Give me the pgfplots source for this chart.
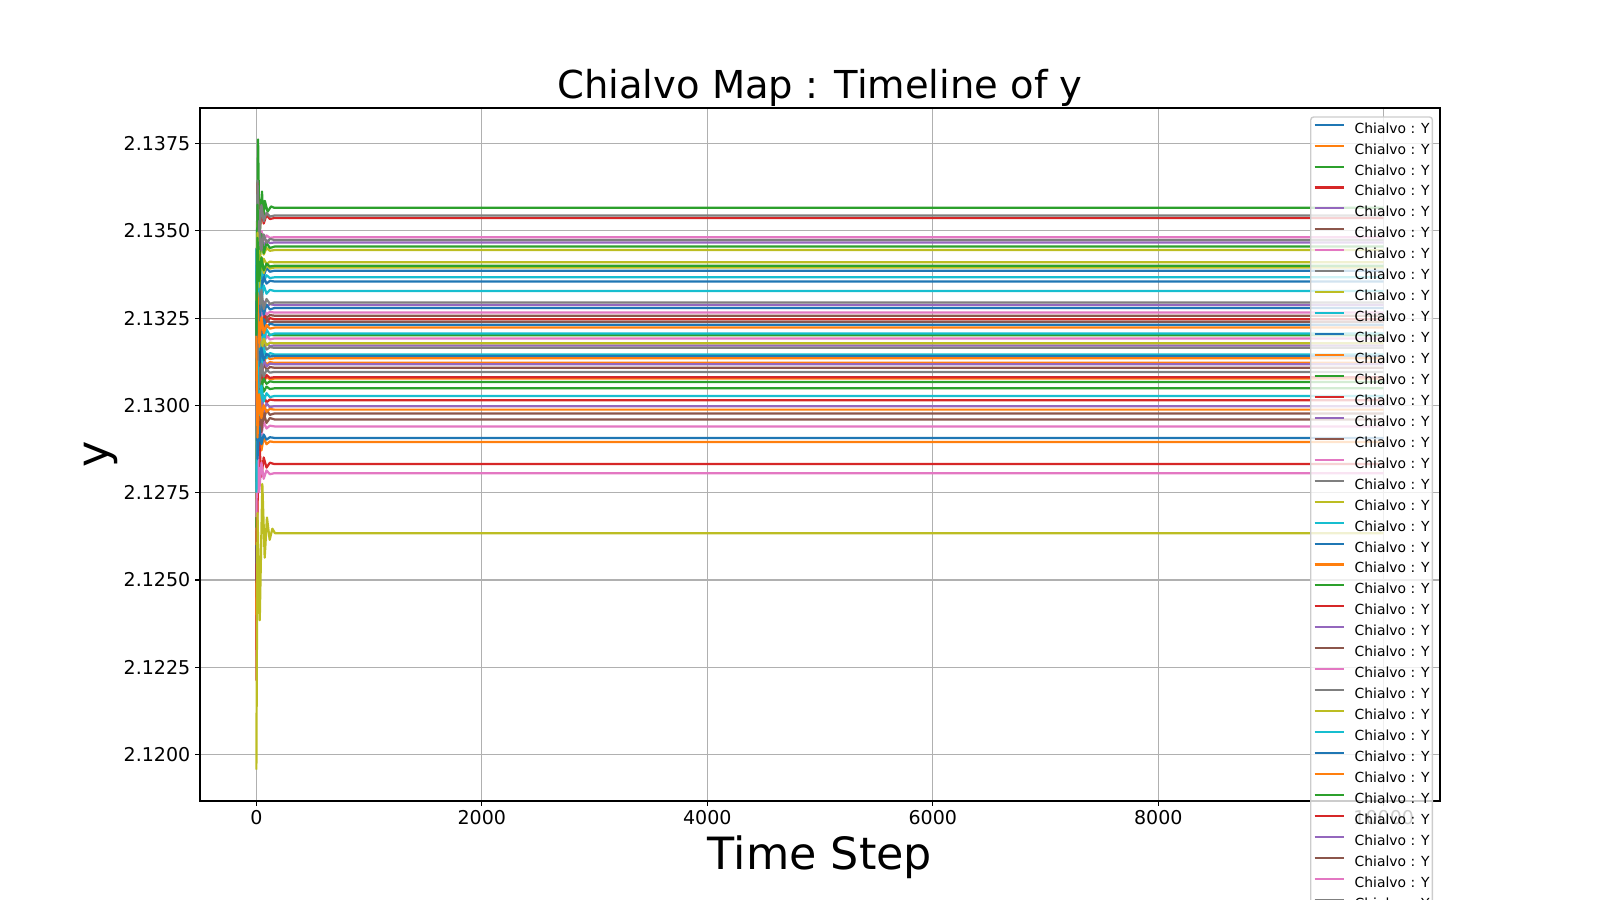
\documentclass[border=0pt]{standalone}
\usepackage{pgfplots}
\pgfplotsset{compat=1.18}
\usepackage{fontspec}
\setmainfont{DejaVu Sans}
\definecolor{c0}{RGB}{31,119,180}
\definecolor{c1}{RGB}{255,127,14}
\definecolor{c2}{RGB}{44,160,44}
\definecolor{c3}{RGB}{214,39,40}
\definecolor{c4}{RGB}{148,103,189}
\definecolor{c5}{RGB}{140,86,75}
\definecolor{c6}{RGB}{227,119,194}
\definecolor{c7}{RGB}{127,127,127}
\definecolor{c8}{RGB}{188,189,34}
\definecolor{c9}{RGB}{23,190,207}
\begin{document}
\begin{tikzpicture}
\useasboundingbox (-144pt,-71.28pt) rectangle (1008pt,576.72pt);
\clip (-144pt,-71.28pt) rectangle (1008pt,576.72pt);
\begin{axis}[
  at={(0,0)}, anchor=south west,
  scale only axis, width=892.8pt, height=498.96pt,
  xmin=-499.95, xmax=10498.95, ymin=2.11867, ymax=2.13852,
  xtick={0,2000,4000,6000,8000,10000},
  ytick={2.12,2.1225,2.125,2.1275,2.13,2.1325,2.135,2.1375},
  scaled x ticks=false, scaled y ticks=false,
  /pgf/number format/assume math mode=true,
  xticklabel style={/pgf/number format/1000 sep={}},
  yticklabel style={/pgf/number format/.cd, fixed, fixed zerofill, precision=4},
  tick label style={font=\fontsize{13.7}{16}\selectfont},
  tick align=outside, tick pos=left, major tick length=3.5pt,
  every tick/.style={black, line width=0.8pt},
  axis line style={line width=0.8pt},
  grid=major, major grid style={color=black!31, line width=0.8pt},
  title={Chialvo Map : Timeline of y},
  title style={at={(0.5,1)}, anchor=base, yshift=0.8pt, inner sep=0pt, font=\fontsize{27.7}{33}\selectfont},
  xlabel={Time Step},
  xlabel style={at={(axis description cs:0.5,0)}, anchor=base, yshift=-49.5pt, inner sep=0pt, font=\fontsize{32}{38}\selectfont},
  ylabel={y},
  ylabel style={at={(axis description cs:-0.07415,0.5)}, anchor=base, inner sep=0pt, font=\fontsize{32}{38}\selectfont},
  every axis plot post/.append style={line width=1.6pt, mark=none, line join=round},
  legend cell align=left,
  legend image code/.code={\draw[#1, line width=1.5pt] (0pt,3.5pt) -- (21.5pt,3.5pt);},
  legend style={at={(1,1)}, anchor=north east, xshift=-5pt, yshift=-6pt,
    draw=black!20, line width=1pt, rounded corners=2pt, fill=white, fill opacity=0.8, draw opacity=1, text opacity=1,
    inner xsep=2pt, inner ysep=4pt, row sep=5.08pt, column sep=6.6pt,
    font=\fontsize{10}{12}\selectfont,
    nodes={inner sep=0pt, text height=7.6pt, text depth=2.4pt}},
]
\addplot[c0] coordinates {(0,2.12950)(10,2.13486)(25,2.13331)(45,2.13416)(65,2.13370)(90,2.13394)(120,2.13383)(160,2.13386)(9999,2.13386)};
\addlegendentry{Chialvo : Y}
\addplot[c1] coordinates {(0,2.12300)(10,2.13215)(25,2.13091)(45,2.13159)(65,2.13122)(90,2.13141)(120,2.13133)(160,2.13135)(9999,2.13135)};
\addlegendentry{Chialvo : Y}
\addplot[c2] coordinates {(0,2.13300)(15,2.13762)(28,2.13470)(50,2.13613)(62,2.13530)(75,2.13586)(100,2.13555)(130,2.13570)(160,2.13566)(9999,2.13566)};
\addlegendentry{Chialvo : Y}
\addplot[c3] coordinates {(0,2.12212)(10,2.13637)(25,2.13482)(45,2.13567)(65,2.13521)(90,2.13545)(120,2.13534)(160,2.13537)(9999,2.13537)};
\addlegendentry{Chialvo : Y}
\addplot[c4] coordinates {(0,2.13100)(10,2.13547)(25,2.13423)(45,2.13491)(65,2.13454)(90,2.13473)(120,2.13465)(160,2.13467)(9999,2.13467)};
\addlegendentry{Chialvo : Y}
\addplot[c5] coordinates {(0,2.13450)(10,2.13177)(25,2.13301)(45,2.13233)(65,2.13270)(90,2.13251)(120,2.13259)(160,2.13257)(9999,2.13257)};
\addlegendentry{Chialvo : Y}
\addplot[c6] coordinates {(0,2.12900)(10,2.13542)(25,2.13449)(45,2.13500)(65,2.13472)(90,2.13487)(120,2.13480)(160,2.13482)(9999,2.13482)};
\addlegendentry{Chialvo : Y}
\addplot[c7] coordinates {(0,2.13300)(10,2.13644)(25,2.13489)(45,2.13574)(65,2.13528)(90,2.13552)(120,2.13541)(160,2.13544)(9999,2.13544)};
\addlegendentry{Chialvo : Y}
\addplot[c8] coordinates {(0,2.13000)(10,2.13525)(25,2.13401)(45,2.13469)(65,2.13432)(90,2.13451)(120,2.13443)(160,2.13445)(9999,2.13445)};
\addlegendentry{Chialvo : Y}
\addplot[c9] coordinates {(0,2.12700)(10,2.13447)(25,2.13323)(45,2.13391)(65,2.13354)(90,2.13373)(120,2.13365)(160,2.13367)(9999,2.13367)};
\addlegendentry{Chialvo : Y}
\addplot[c0] coordinates {(0,2.13100)(10,2.13275)(25,2.13399)(45,2.13331)(65,2.13368)(90,2.13349)(120,2.13357)(160,2.13355)(9999,2.13355)};
\addlegendentry{Chialvo : Y}
\addplot[c1] coordinates {(0,2.12800)(10,2.13062)(25,2.13155)(45,2.13104)(65,2.13132)(90,2.13117)(120,2.13124)(160,2.13122)(9999,2.13122)};
\addlegendentry{Chialvo : Y}
\addplot[c2] coordinates {(0,2.13000)(10,2.13575)(25,2.13389)(45,2.13491)(65,2.13436)(90,2.13465)(120,2.13451)(160,2.13455)(9999,2.13455)};
\addlegendentry{Chialvo : Y}
\addplot[c3] coordinates {(0,2.13000)(10,2.13147)(25,2.13302)(45,2.13217)(65,2.13263)(90,2.13239)(120,2.13250)(160,2.13247)(9999,2.13247)};
\addlegendentry{Chialvo : Y}
\addplot[c4] coordinates {(0,2.12850)(10,2.13228)(25,2.13321)(45,2.13270)(65,2.13298)(90,2.13283)(120,2.13290)(160,2.13288)(9999,2.13288)};
\addlegendentry{Chialvo : Y}
\addplot[c5] coordinates {(0,2.12450)(10,2.13340)(25,2.13185)(45,2.13270)(65,2.13224)(90,2.13248)(120,2.13237)(160,2.13240)(9999,2.13240)};
\addlegendentry{Chialvo : Y}
\addplot[c6] coordinates {(0,2.13150)(10,2.13206)(25,2.13299)(45,2.13248)(65,2.13276)(90,2.13261)(120,2.13268)(160,2.13266)(9999,2.13266)};
\addlegendentry{Chialvo : Y}
\addplot[c7] coordinates {(0,2.13150)(10,2.13374)(25,2.13529)(45,2.13444)(65,2.13490)(90,2.13466)(120,2.13477)(160,2.13474)(9999,2.13474)};
\addlegendentry{Chialvo : Y}
\addplot[c8] coordinates {(0,2.13250)(10,2.13350)(25,2.13443)(45,2.13392)(65,2.13420)(90,2.13405)(120,2.13412)(160,2.13410)(9999,2.13410)};
\addlegendentry{Chialvo : Y}
\addplot[c9] coordinates {(0,2.13450)(10,2.13228)(25,2.13383)(45,2.13298)(65,2.13344)(90,2.13320)(120,2.13331)(160,2.13328)(9999,2.13328)};
\addlegendentry{Chialvo : Y}
\addplot[c0] coordinates {(0,2.12700)(10,2.13399)(25,2.13213)(45,2.13315)(65,2.13260)(90,2.13289)(120,2.13275)(160,2.13279)(9999,2.13279)};
\addlegendentry{Chialvo : Y}
\addplot[c1] coordinates {(0,2.13250)(10,2.13137)(25,2.13044)(45,2.13095)(65,2.13067)(90,2.13082)(120,2.13075)(160,2.13077)(9999,2.13077)};
\addlegendentry{Chialvo : Y}
\addplot[c2] coordinates {(0,2.12900)(10,2.13121)(25,2.13245)(45,2.13177)(65,2.13214)(90,2.13195)(120,2.13203)(160,2.13201)(9999,2.13201)};
\addlegendentry{Chialvo : Y}
\addplot[c3] coordinates {(0,2.12750)(10,2.13161)(25,2.13037)(45,2.13105)(65,2.13068)(90,2.13087)(120,2.13079)(160,2.13081)(9999,2.13081)};
\addlegendentry{Chialvo : Y}
\addplot[c4] coordinates {(0,2.13300)(10,2.13232)(25,2.13139)(45,2.13190)(65,2.13162)(90,2.13177)(120,2.13170)(160,2.13172)(9999,2.13172)};
\addlegendentry{Chialvo : Y}
\addplot[c5] coordinates {(0,2.12700)(10,2.13028)(25,2.13152)(45,2.13084)(65,2.13121)(90,2.13102)(120,2.13110)(160,2.13108)(9999,2.13108)};
\addlegendentry{Chialvo : Y}
\addplot[c6] coordinates {(0,2.12680)(10,2.13292)(25,2.13137)(45,2.13222)(65,2.13176)(90,2.13200)(120,2.13189)(160,2.13192)(9999,2.13192)};
\addlegendentry{Chialvo : Y}
\addplot[c7] coordinates {(0,2.12800)(10,2.13415)(25,2.13229)(45,2.13331)(65,2.13276)(90,2.13305)(120,2.13291)(160,2.13295)(9999,2.13295)};
\addlegendentry{Chialvo : Y}
\addplot[c8] coordinates {(0,2.12850)(10,2.13495)(25,2.13340)(45,2.13425)(65,2.13379)(90,2.13403)(120,2.13392)(160,2.13395)(9999,2.13395)};
\addlegendentry{Chialvo : Y}
\addplot[c9] coordinates {(0,2.12700)(10,2.13356)(25,2.13123)(45,2.13251)(65,2.13182)(90,2.13218)(120,2.13201)(160,2.13206)(9999,2.13206)};
\addlegendentry{Chialvo : Y}
\addplot[c0] coordinates {(0,2.13400)(10,2.13131)(25,2.13286)(45,2.13201)(65,2.13247)(90,2.13223)(120,2.13234)(160,2.13231)(9999,2.13231)};
\addlegendentry{Chialvo : Y}
\addplot[c1] coordinates {(0,2.12400)(10,2.12815)(25,2.12939)(45,2.12871)(65,2.12908)(90,2.12889)(120,2.12897)(160,2.12895)(9999,2.12895)};
\addlegendentry{Chialvo : Y}
\addplot[c2] coordinates {(0,2.13300)(10,2.13109)(25,2.13016)(45,2.13067)(65,2.13039)(90,2.13054)(120,2.13047)(160,2.13049)(9999,2.13049)};
\addlegendentry{Chialvo : Y}
\addplot[c3] coordinates {(0,2.13350)(10,2.12935)(25,2.13059)(45,2.12991)(65,2.13028)(90,2.13009)(120,2.13017)(160,2.13015)(9999,2.13015)};
\addlegendentry{Chialvo : Y}
\addplot[c4] coordinates {(0,2.12600)(10,2.13038)(25,2.13162)(45,2.13094)(65,2.13131)(90,2.13112)(120,2.13120)(160,2.13118)(9999,2.13118)};
\addlegendentry{Chialvo : Y}
\addplot[c5] coordinates {(0,2.12550)(10,2.13097)(25,2.12911)(45,2.13013)(65,2.12958)(90,2.12987)(120,2.12973)(160,2.12977)(9999,2.12977)};
\addlegendentry{Chialvo : Y}
\addplot[c6] coordinates {(0,2.13050)(10,2.12860)(25,2.12984)(45,2.12916)(65,2.12953)(90,2.12934)(120,2.12942)(160,2.12940)(9999,2.12940)};
\addlegendentry{Chialvo : Y}
\addplot[c7] coordinates {(0,2.13400)(10,2.13105)(25,2.13198)(45,2.13147)(65,2.13175)(90,2.13160)(120,2.13167)(160,2.13165)(9999,2.13165)};
\addlegendentry{Chialvo : Y}
\addplot[c8] coordinates {(0,2.13350)(10,2.13098)(25,2.13222)(45,2.13154)(65,2.13191)(90,2.13172)(120,2.13180)(160,2.13178)(9999,2.13178)};
\addlegendentry{Chialvo : Y}
\addplot[c9] coordinates {(0,2.13400)(10,2.13026)(25,2.13212)(45,2.13110)(65,2.13165)(90,2.13136)(120,2.13150)(160,2.13146)(9999,2.13146)};
\addlegendentry{Chialvo : Y}
\addplot[c0] coordinates {(0,2.12500)(10,2.13222)(25,2.13098)(45,2.13166)(65,2.13129)(90,2.13148)(120,2.13140)(160,2.13142)(9999,2.13142)};
\addlegendentry{Chialvo : Y}
\addplot[c1] coordinates {(0,2.12600)(10,2.13323)(25,2.13168)(45,2.13253)(65,2.13207)(90,2.13231)(120,2.13220)(160,2.13223)(9999,2.13223)};
\addlegendentry{Chialvo : Y}
\addplot[c2] coordinates {(0,2.12650)(10,2.13007)(25,2.13100)(45,2.13049)(65,2.13077)(90,2.13062)(120,2.13069)(160,2.13067)(9999,2.13067)};
\addlegendentry{Chialvo : Y}
\addplot[c3] coordinates {(0,2.12500)(10,2.12712)(25,2.12898)(45,2.12796)(65,2.12851)(90,2.12822)(120,2.12836)(160,2.12832)(9999,2.12832)};
\addlegendentry{Chialvo : Y}
\addplot[c4] coordinates {(0,2.12950)(10,2.13098)(25,2.12943)(45,2.13028)(65,2.12982)(90,2.13006)(120,2.12995)(160,2.12998)(9999,2.12998)};
\addlegendentry{Chialvo : Y}
\addplot[c5] coordinates {(0,2.13100)(10,2.12840)(25,2.13026)(45,2.12924)(65,2.12979)(90,2.12950)(120,2.12964)(160,2.12960)(9999,2.12960)};
\addlegendentry{Chialvo : Y}
\addplot[c6] coordinates {(0,2.12680)(10,2.12906)(25,2.12751)(45,2.12836)(65,2.12790)(90,2.12814)(120,2.12803)(160,2.12806)(9999,2.12806)};
\addlegendentry{Chialvo : Y}
\addplot[c7] coordinates {(0,2.12900)(10,2.13176)(25,2.13052)(45,2.13120)(65,2.13083)(90,2.13102)(120,2.13094)(160,2.13096)(9999,2.13096)};
\addlegendentry{Chialvo : Y}
\addplot[c8] coordinates {(0,2.11957)(10,2.12692)(30,2.12385)(53,2.12775)(74,2.12564)(94,2.12679)(118,2.12615)(142,2.12647)(165,2.12634)(9999,2.12634)};
\addlegendentry{Chialvo : Y}
\addplot[c9] coordinates {(0,2.12750)(10,2.13127)(25,2.12972)(45,2.13057)(65,2.13011)(90,2.13035)(120,2.13024)(160,2.13027)(9999,2.13027)};
\addlegendentry{Chialvo : Y}
\addplot[c0] coordinates {(0,2.13300)(10,2.12847)(25,2.12940)(45,2.12889)(65,2.12917)(90,2.12902)(120,2.12909)(160,2.12907)(9999,2.12907)};
\addlegendentry{Chialvo : Y}
\addplot[c1] coordinates {(0,2.13200)(10,2.12908)(25,2.13032)(45,2.12964)(65,2.13001)(90,2.12982)(120,2.12990)(160,2.12988)(9999,2.12988)};
\addlegendentry{Chialvo : Y}
\addplot[c2] coordinates {(0,2.13200)(10,2.13480)(25,2.13356)(45,2.13424)(65,2.13387)(90,2.13406)(120,2.13398)(160,2.13400)(9999,2.13400)};
\addlegendentry{Chialvo : Y}
\end{axis}
\end{tikzpicture}
\end{document}
